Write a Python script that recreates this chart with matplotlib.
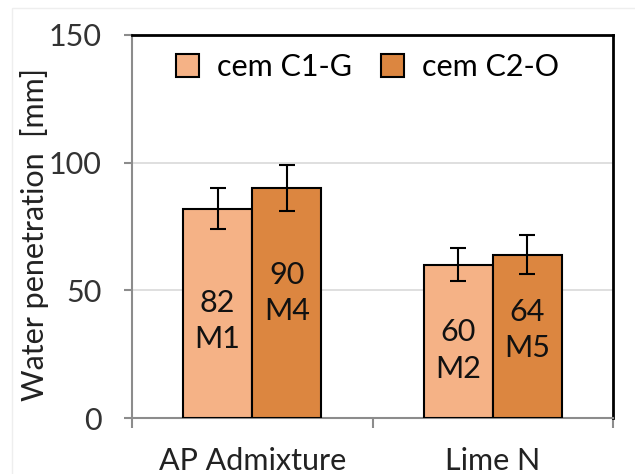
"""Water penetration bar chart."""

import matplotlib.pyplot as plt
import numpy as np
from matplotlib.patches import Rectangle

categories = ["AP Admixture", "Lime N"]
series_names = ["cem C1-G", "cem C2-O"]
c1_values = [82, 60]
c2_values = [90, 64]
c1_err = [8, 6.5]
c2_err = [9, 7.5]
c1_mix = ["M1", "M2"]
c2_mix = ["M4", "M5"]

LIGHT = "#F5B286"
DARK = "#DC8640"
FONT = ["Lato", "DejaVu Sans"]
FS = 22

plt.rcParams["font.family"] = FONT

fig = plt.figure(figsize=(6.35, 4.74), dpi=100)
fig.patches.append(Rectangle((12 / 635, -0.05), 0.99, 1 - 8 / 474 + 0.05,
                             transform=fig.transFigure, fill=False,
                             edgecolor="#EEEEEE", linewidth=1))
ax = fig.add_axes([132 / 635, 56 / 474, 481 / 635, 383 / 474])

x = np.arange(len(categories))
width = 0.2875
bars1 = ax.bar(x - width / 2, c1_values, width, color=LIGHT, edgecolor="black",
               linewidth=1.5, label=series_names[0], zorder=3)
bars2 = ax.bar(x + width / 2, c2_values, width, color=DARK, edgecolor="black",
               linewidth=1.5, label=series_names[1], zorder=3)
ax.errorbar(x - width / 2, c1_values, yerr=c1_err, fmt="none", ecolor="black",
            elinewidth=1.5, capsize=6, capthick=1.5, zorder=4)
ax.errorbar(x + width / 2, c2_values, yerr=c2_err, fmt="none", ecolor="black",
            elinewidth=1.5, capsize=6, capthick=1.5, zorder=4)

# data labels roughly mid-bar, nudged like the original
offsets1 = [-3, -3.5]
offsets2 = [4, 2.5]
for b, v, m, off in zip(bars1, c1_values, c1_mix, offsets1):
    ax.text(b.get_x() + b.get_width() / 2, v / 2 + off, f"{v}\n{m}",
            ha="center", va="center", fontsize=FS, linespacing=1.38,
            color="#111111", zorder=5)
for b, v, m, off in zip(bars2, c2_values, c2_mix, offsets2):
    ax.text(b.get_x() + b.get_width() / 2, v / 2 + off, f"{v}\n{m}",
            ha="center", va="center", fontsize=FS, linespacing=1.38,
            color="#111111", zorder=5)

ax.set_xlim(-0.5, 1.5)
ax.set_ylim(0, 150)
ax.set_yticks([0, 50, 100, 150])
ax.yaxis.grid(True, color="#D9D9D9", linewidth=1.2, zorder=0)
ax.set_xticks(x)
ax.set_xticklabels(categories, fontsize=FS)
ax.set_xticks([-0.5, 0.5, 1.5], minor=True)
ax.tick_params(axis="x", which="major", length=0, pad=21)
ax.tick_params(axis="x", which="minor", length=7, width=1.5, color="#8C8C8C")
ax.tick_params(axis="y", length=6, width=1.5, color="#8C8C8C", pad=16,
               labelsize=FS, labelcolor="#333333")
ax.tick_params(axis="x", labelcolor="#222222")

for side in ["left", "bottom"]:
    ax.spines[side].set_color("#8C8C8C")
    ax.spines[side].set_linewidth(1.5)
for side in ["top", "right"]:
    ax.spines[side].set_color("black")
    ax.spines[side].set_linewidth(2)

ax.set_ylabel("Water penetration  [mm]", fontsize=FS, color="#222222")
ax.yaxis.set_label_coords(-0.172, 0.48)

ax.legend(loc="upper center", ncol=2, frameon=False, fontsize=FS,
          handlelength=0.75, handleheight=0.75, handletextpad=0.6,
          columnspacing=0.95, bbox_to_anchor=(0.49, 1.0), borderaxespad=0.2)

fig.savefig("out.png", dpi=100)
